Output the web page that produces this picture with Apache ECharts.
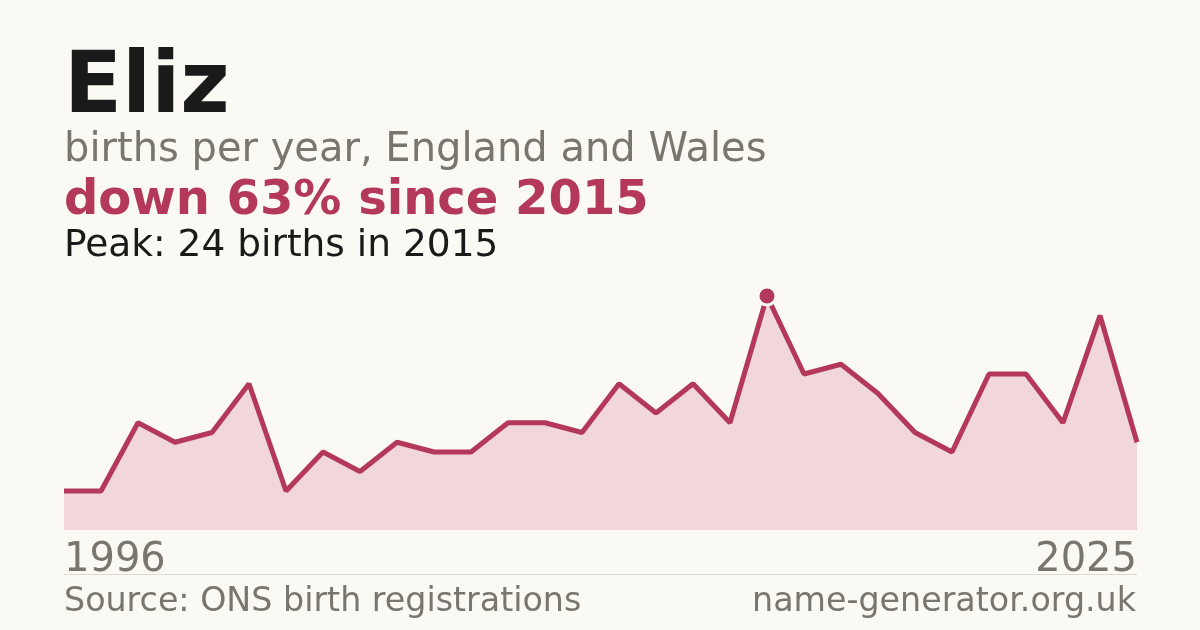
<!DOCTYPE html>
<html>
<head>
<meta charset="utf-8">
<script src="https://cdn.jsdelivr.net/npm/echarts@6/dist/echarts.min.js"></script>
<style>
    html, body { margin: 0; padding: 0; background: #faf9f4; }
    #chart { width: 1200px; height: 630px; }
</style>
</head>
<body>
<div id="chart"></div>
<script>
// 数据
var years = ['1996', '1997', '1998', '1999', '2000', '2001', '2002', '2003', '2004', '2005',
    '2006', '2007', '2008', '2009', '2010', '2011', '2012', '2013', '2014', '2015',
    '2016', '2017', '2018', '2019', '2020', '2021', '2022', '2023', '2024', '2025'];
var births = [4, 4, 11, 9, 10, 15, 4, 8, 6, 9,
    8, 8, 11, 11, 10, 15, 12, 15, 11, 24,
    16, 17, 14, 10, 8, 16, 16, 11, 22, 9];

var red = '#b3385a';
var grey = '#7a756d';
var font = 'DejaVu Sans';

var chart = echarts.init(document.getElementById('chart'));
var last = years.length - 1;

var option = {
    backgroundColor: '#faf9f4',
    animation: false,
    grid: { left: 64, right: 63, top: 296, bottom: 100 },
    xAxis: {
        type: 'category',
        data: years,
        boundaryGap: false,
        axisLine: { show: false },
        axisTick: { show: false },
        splitLine: { show: false },
        axisLabel: {
            interval: function (i) { return i === 0 || i === last; },
            alignMinLabel: 'left',
            alignMaxLabel: 'right',
            verticalAlign: 'middle',
            margin: 31,
            fontFamily: font,
            fontSize: 40,
            color: grey
        }
    },
    yAxis: {
        type: 'value',
        min: 0,
        max: 24,
        show: false
    },
    series: [
        {
            type: 'line',
            data: births,
            symbol: 'none',
            lineStyle: { color: red, width: 5 },
            areaStyle: { color: '#f1d6db', opacity: 1 },
            markPoint: {
                symbol: 'circle',
                symbolSize: 18,
                itemStyle: { color: red, borderColor: '#faf9f4', borderWidth: 3 },
                label: { show: false },
                data: [{ type: 'max' }]
            }
        }
    ],
    graphic: [
        { type: 'text', x: 64, y: 90, style: { text: 'Eliz', font: 'bold 85px ' + font, fill: '#1a1a1a', verticalAlign: 'middle' } },
        { type: 'text', x: 64, y: 151, style: { text: 'births per year, England and Wales', font: '40px ' + font, fill: grey, verticalAlign: 'middle' } },
        { type: 'text', x: 64, y: 202, style: { text: 'down 63% since 2015', font: 'bold 48px ' + font, fill: red, verticalAlign: 'middle' } },
        { type: 'text', x: 64, y: 246, style: { text: 'Peak: 24 births in 2015', font: '37.5px ' + font, fill: '#1a1a1a', verticalAlign: 'middle' } },
        { type: 'line', shape: { x1: 64, y1: 574.5, x2: 1137, y2: 574.5 }, style: { stroke: '#dedad2', lineWidth: 1 } },
        { type: 'text', x: 64, y: 602, style: { text: 'Source: ONS birth registrations', font: '33.3px ' + font, fill: grey, verticalAlign: 'middle' } },
        { type: 'text', x: 1136, y: 602, style: { text: 'name-generator.org.uk', font: '33.3px ' + font, fill: grey, verticalAlign: 'middle', align: 'right' } }
    ]
};

chart.setOption(option);
</script>
</body>
</html>
